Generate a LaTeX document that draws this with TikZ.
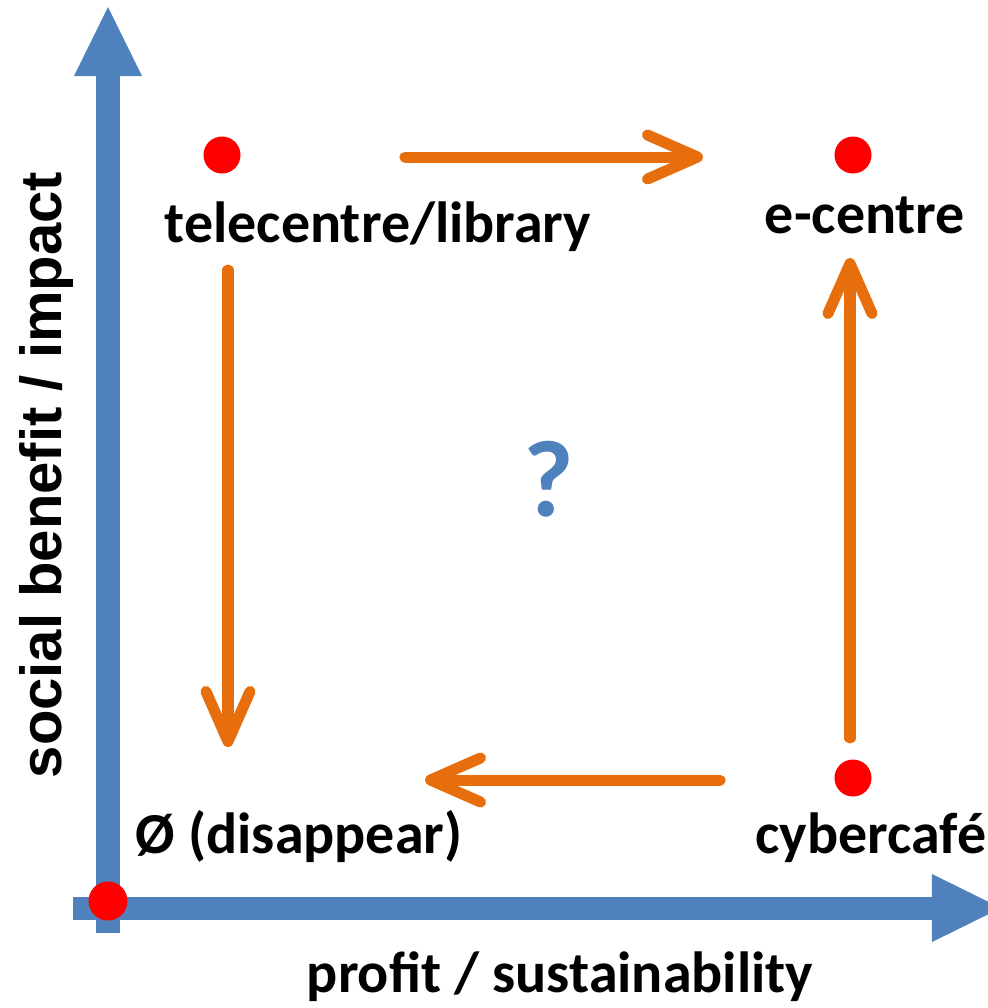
\documentclass[tikz,border=0pt]{standalone}
\usepackage{fontspec}
\setmainfont{Carlito}
\newfontfamily\arialfont{Liberation Sans}
\usetikzlibrary{arrows.meta}
\definecolor{axisblue}{RGB}{79,129,189}
\definecolor{floworange}{RGB}{230,110,12}
\definecolor{dotred}{RGB}{255,0,0}
\tikzset{
  axisline/.style={axisblue, line width=.23cm,
    -{Triangle[length=.69cm, width=.68cm, line width=0pt]}},
  flow/.style={floworange, line width=.11cm, line cap=round,
    -{Straight Barb[length=.5cm, width=.44cm, round]}},
  dot/.style={circle, fill=dotred, inner sep=0pt, minimum size=.37cm},
  lbl/.style={font=\bfseries\fontsize{16.5}{20}\selectfont, inner sep=0pt},
}

\begin{document}
\begin{tikzpicture}[x=.01cm, y=-.01cm]
      \useasboundingbox (0,0) rectangle (988,1008);
      % axes
      \coordinate (yfoot) at (108,933);
      \coordinate (ytip) at (108,7);
      \coordinate (xfoot) at (73,908);
      \coordinate (xtip) at (1001,908);
      \draw[axisline] (yfoot) -- (ytip);
      \draw[axisline] (xfoot) -- (xtip);
      \node[rotate=90, inner sep=0pt,
        font=\arialfont\bfseries\fontsize{16.5}{20}\selectfont] (ylabel) at (46,475) {social benefit / impact};
      \node[lbl, anchor=base] (xlabel) at (560,992) {profit / sustainability};
      % points
      \node[dot, minimum size=.39cm] (origin) at (108,901) {};
      \node[dot] (tele) at (222,155) {};
      \node[dot] (ecen) at (853,155) {};
      \node[dot] (cyber) at (853,778) {};
      % labels
      \node[lbl, anchor=base] (telelbl) at (378,242) {telecentre/library};
      \node[lbl, anchor=base] (ecenlbl) at (865,233) {e-centre};
      \node[lbl, anchor=base west] (cyberlbl) at (755,853) {cybercafé};
      \node[lbl, anchor=base west] (nonelbl) at (135,853) {Ø (disappear)};
      \node[axisblue, font=\bfseries\fontsize{31}{34}\selectfont] (query) at (549,479) {?};
      % moves
      \coordinate (a1) at (405,157);
      \coordinate (a2) at (703,157);
      \coordinate (b1) at (228,270);
      \coordinate (b2) at (228,747);
      \coordinate (c1) at (850,738);
      \coordinate (c2) at (850,258);
      \coordinate (d1) at (720,780);
      \coordinate (d2) at (425,780);
      \draw[flow] (a1) -- (a2);
      \draw[flow] (b1) -- (b2);
      \draw[flow] (c1) -- (c2);
      \draw[flow] (d1) -- (d2);
    \end{tikzpicture}
\end{document}
